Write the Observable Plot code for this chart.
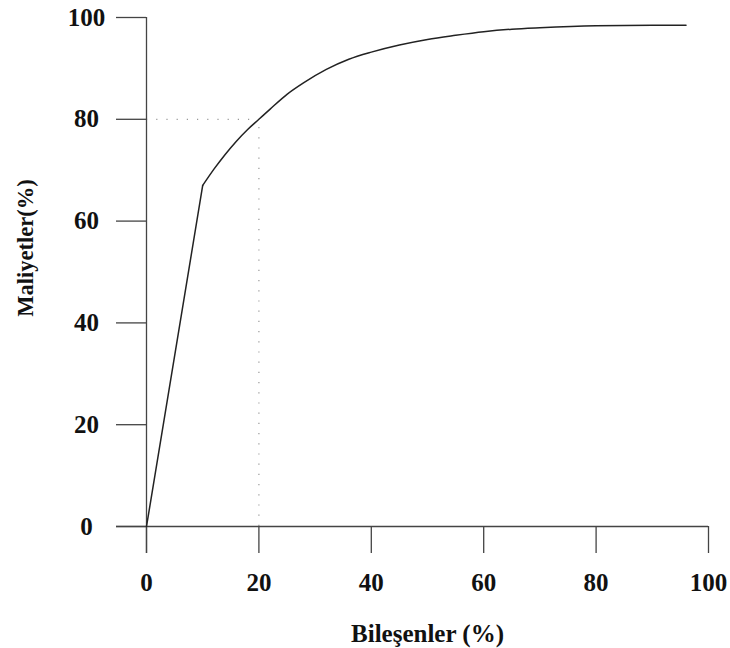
<!DOCTYPE html>
<html>
<head>
<meta charset="utf-8">
<script src="https://cdn.jsdelivr.net/npm/d3@7"></script>
<script src="https://cdn.jsdelivr.net/npm/@observablehq/plot@0.6"></script>
<style>
  html, body { margin: 0; padding: 0; background: #fff; }
  #chart { width: 730px; height: 648px; }
</style>
</head>
<body>
<div id="chart"></div>
<script>
// Cumulative curve: components (%) vs costs (%)
const componentPct = [0, 10, 12, 14, 16, 18, 20, 22, 25, 28, 32, 36, 40, 45, 50, 55, 60, 65, 70, 80, 90, 96];
const costPct      = [0, 67, 70.2, 73.1, 75.7, 78.0, 80, 82.0, 84.9, 87.2, 89.8, 91.8, 93.2, 94.6, 95.7, 96.5, 97.2, 97.7, 98.0, 98.4, 98.5, 98.5];
const xTicks = [0, 20, 40, 60, 80, 100];
const yTicks = [0, 20, 40, 60, 80, 100];
const refX = [20];
const refY = [80];
const xTitle = "Bileşenler (%)";
const yTitle = "Maliyetler(%)";

const data = componentPct.map((x, i) => ({x, y: costPct[i]}));
const kink = 1; // index of the sharp corner

const axisColor = "#444";
const chart = Plot.plot({
  width: 730,
  height: 648,
  marginLeft: 146,
  marginRight: 22,
  marginTop: 17,
  marginBottom: 122,
  style: {fontFamily: "'Liberation Serif', 'Times New Roman', serif", color: "#111", background: "#fff"},
  x: {domain: [0, 100], axis: null},
  y: {domain: [0, 100], axis: null},
  marks: [
    // reference dotted lines
    Plot.ruleY(refY, {x1: 0, x2: refX[0], stroke: "#999", strokeWidth: 1.2, strokeDasharray: "1.2,9"}),
    Plot.ruleX(refX, {y1: 0, y2: refY[0], stroke: "#999", strokeWidth: 1.2, strokeDasharray: "1.2,9"}),
    // axis lines (crossing at origin)
    Plot.ruleX([0], {stroke: axisColor, strokeWidth: 1.3, insetBottom: -27}),
    Plot.ruleY([0], {stroke: axisColor, strokeWidth: 1.3, insetLeft: -30}),
    Plot.axisY(yTicks, {
      anchor: "left", tickSize: 30, tickPadding: 30, textAnchor: "middle",
      fontSize: 25, fontWeight: "bold", stroke: axisColor, strokeWidth: 1.3, label: null
    }),
    Plot.axisX(xTicks, {
      anchor: "bottom", tickSize: 27, tickPadding: 20,
      fontSize: 25, fontWeight: "bold", stroke: axisColor, strokeWidth: 1.3, label: null
    }),
    // curve
    Plot.line(data.slice(0, kink + 1), {x: "x", y: "y", stroke: "#222", strokeWidth: 1.5}),
    Plot.line(data.slice(kink), {x: "x", y: "y", stroke: "#222", strokeWidth: 1.5, curve: "monotone-x"}),
    // titles
    Plot.text([xTitle], {frameAnchor: "bottom", dy: 107, fontSize: 25, fontWeight: "bold", textAnchor: "middle", lineAnchor: "middle", fill: "#111"}),
    Plot.text([yTitle], {frameAnchor: "left", dx: -121, dy: -24, rotate: -90, fontSize: 22.5, fontWeight: "bold", textAnchor: "middle", lineAnchor: "middle", fill: "#111"})
  ]
});
document.getElementById("chart").appendChild(chart);
</script>
</body>
</html>
